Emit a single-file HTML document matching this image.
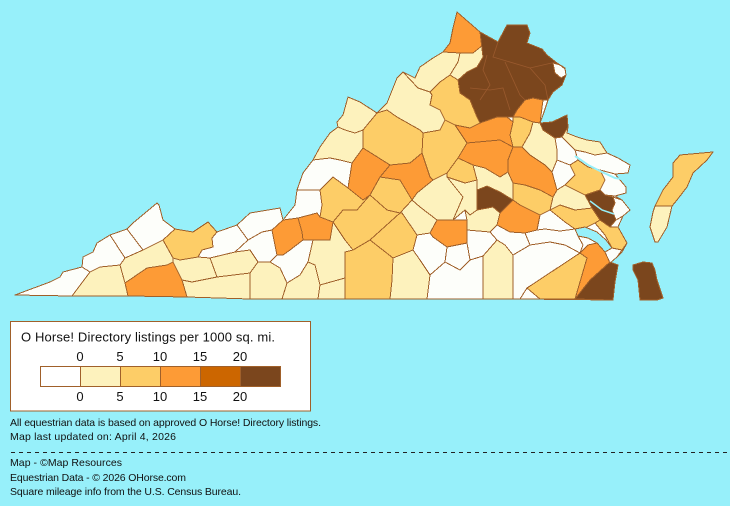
<!DOCTYPE html>
<html>
<head>
<meta charset="utf-8">
<style>
html,body{margin:0;padding:0;background:#97F0FA;width:730px;height:506px;overflow:hidden;}
svg{display:block}
text{font-family:"Liberation Sans",Arial,sans-serif;fill:#111;}
</style>
</head>
<body>
<svg width="730" height="506" viewBox="0 0 730 506" xmlns="http://www.w3.org/2000/svg">
<rect x="0" y="0" width="730" height="506" fill="#97F0FA"/>

<g stroke="#A0602A" stroke-width="1" stroke-linejoin="round" shape-rendering="crispEdges">
<!-- state outline -->
<path fill="#FDFEFA" d="M15,295 L50,282 L60,277 L63,272 L82,267 L83,257 L93,252 L97,243 L110,235 L127,229 L133,223 L157,203 L159,205 L163,220 L175,229 L193,232 L208,222 L217,232 L237,225 L250,213 L280,208 L283,220 L295,205 L297,190 L303,173 L313,160 L320,147 L330,133 L338,127 L337,122 L343,115 L348,97 L360,102 L377,113 L387,103 L397,78 L403,72 L415,78 L420,67 L433,58 L443,52 L450,43 L453,28 L457,12 L480,32 L498,42 L507,25 L527,25 L530,33 L527,43 L542,49 L547,55 L557,63 L565,68 L566,75 L562,85 L553,92 L548,100 L543,115 L540,123 L552,122 L567,115 L568,127 L567,133 L577,137 L587,140 L600,142 L607,153 L618,158 L630,165 L628,173 L615,174 L626,187 L626,193 L615,196 L622,200 L630,210 L623,216 L618,227 L627,243 L622,252 L617,257 L610,263 L618,265 L615,282 L613,300 L520,299 L250,299 L187,297 L130,296 Z"/>

<!-- southwest -->
<polygon fill="#FDFEFA" points="15,295 50,282 60,277 63,272 82,267 90,272 72,296"/>
<polygon fill="#FDF2BD" points="72,296 90,272 100,267 120,265 125,283 128,296"/>
<polygon fill="#FDFEFA" points="82,267 83,257 93,252 97,243 110,235 125,258 120,265 100,267 90,272"/>
<polygon fill="#FDFEFA" points="110,235 127,229 143,250 125,258"/>
<polygon fill="#FDFEFA" points="127,229 133,223 157,203 159,205 163,220 175,229 163,240 143,250"/>
<polygon fill="#FDF2BD" points="125,258 143,250 163,240 173,258 173,262 167,265 147,268 125,283 120,265"/>
<polygon fill="#FD9B36" points="125,283 147,268 167,265 173,262 182,280 187,297 130,296 128,296"/>
<polygon fill="#FDCD67" points="163,240 175,229 193,232 208,222 217,232 212,238 213,247 202,250 198,257 180,260 173,258"/>
<polygon fill="#FDF2BD" points="173,262 173,258 180,260 198,257 210,258 217,277 192,282 182,280"/>
<polygon fill="#FDF2BD" points="182,280 192,282 217,277 250,273 250,299 187,297"/>
<polygon fill="#FDFEFA" points="213,247 212,238 217,232 237,225 248,240 235,252 210,258 198,257 202,250"/>
<polygon fill="#FDF2BD" points="210,258 235,252 250,250 258,262 250,273 217,277"/>
<polygon fill="#FDFEFA" points="237,225 250,213 280,208 283,220 272,230 262,232 248,240"/>
<polygon fill="#FDFEFA" points="248,240 262,232 272,230 277,255 270,262 258,262 250,250 235,252"/>
<polygon fill="#FD9B36" points="272,230 283,220 298,218 302,232 303,240 290,250 283,255 277,255"/>
<polygon fill="#FD9B36" points="298,218 317,213 320,217 333,222 332,230 330,240 313,240 303,240 302,232"/>
<polygon fill="#FDFEFA" points="277,255 283,255 290,250 303,240 313,240 308,262 300,275 287,283 280,268 270,262"/>
<polygon fill="#FDF2BD" points="250,273 258,262 270,262 280,268 287,283 282,299 250,299"/>
<polygon fill="#FDF2BD" points="287,283 300,275 308,262 315,265 320,285 318,299 282,299"/>
<polygon fill="#FDF2BD" points="313,240 330,240 333,222 345,240 353,250 345,252 345,278 320,285 315,265 308,262"/>
<polygon fill="#FDF2BD" points="318,299 320,285 345,278 345,299"/>
<polygon fill="#FDCD67" points="345,252 353,250 370,240 393,258 392,280 390,299 345,299 345,278"/>
<polygon fill="#FDF2BD" points="393,258 413,250 420,260 430,275 427,299 390,299 392,280"/>

<!-- west-central -->
<polygon fill="#FDFEFA" points="283,220 295,205 297,190 320,190 322,205 320,217 317,213 298,218"/>
<polygon fill="#FDFEFA" points="313,160 330,158 340,160 352,163 348,188 333,177 320,190 297,190 303,173"/>
<polygon fill="#FDF2BD" points="320,147 330,133 338,127 345,130 355,133 363,130 363,148 352,163 340,160 330,158 313,160"/>
<polygon fill="#FDF2BD" points="338,127 337,122 343,115 348,97 360,102 377,113 363,130 355,133 345,130"/>
<polygon fill="#FDCD67" points="320,190 333,177 348,188 363,200 370,195 357,210 343,210 333,222 320,217 322,205"/>
<polygon fill="#FD9B36" points="352,163 363,148 390,165 380,177 370,195 363,200 348,188"/>
<polygon fill="#FDCD67" points="363,130 377,113 387,110 397,117 420,130 423,133 422,153 410,163 390,165 363,148"/>
<polygon fill="#FDF2BD" points="377,113 387,103 397,78 403,72 418,88 430,92 432,95 430,105 440,110 445,120 440,130 423,133 420,130 397,117 387,110"/>
<polygon fill="#FDF2BD" points="403,72 415,78 420,67 433,58 443,52 460,53 458,62 450,75 440,82 430,92 418,88"/>
<polygon fill="#FD9B36" points="457,12 480,32 483,45 473,53 460,53 443,52 450,43 453,28"/>
<polygon fill="#FDF2BD" points="473,53 483,45 480,32 483,57 477,67 467,72 458,80 450,75 458,62 460,53"/>
<polygon fill="#FDCD67" points="440,82 450,75 458,80 460,93 470,100 477,117 480,123 470,128 455,125 445,120 440,110 430,105 432,95 430,92"/>

<!-- northern VA -->
<polygon fill="#7B461D" points="480,32 498,42 507,25 527,25 530,33 527,43 542,49 547,55 557,63 565,68 566,75 562,85 553,92 548,100 543,100 533,98 525,100 517,110 513,117 507,117 497,117 480,123 477,117 470,100 460,93 458,80 467,72 477,67 483,57"/>
<polygon fill="#FDFEFA" points="553,63 560,65 565,69 566,75 561,78 555,73"/>
<polygon fill="#FD9B36" points="517,110 525,100 533,98 543,100 540,123 533,122 520,117 513,117"/>
<polygon fill="#7B461D" points="540,123 552,122 567,115 568,127 562,137 555,138 543,130"/>

<!-- central -->
<polygon fill="#FD9B36" points="455,125 470,128 480,123 497,117 507,117 513,122 510,135 513,147 500,140 467,143"/>
<polygon fill="#FDCD67" points="422,153 423,133 440,130 445,120 455,125 467,143 458,158 447,173 433,180 430,177"/>
<polygon fill="#FD9B36" points="390,165 410,163 422,153 430,177 433,180 417,193 412,200 400,180 380,177"/>
<polygon fill="#FDCD67" points="380,177 400,180 412,200 400,213 387,210 370,195"/>
<polygon fill="#FDCD67" points="370,195 387,210 400,213 370,240 353,250 345,240 333,222 343,210 357,210"/>
<polygon fill="#FDCD67" points="400,213 402,213 417,235 413,250 393,258 370,240"/>
<polygon fill="#FDF2BD" points="412,200 420,207 437,220 430,233 417,235 402,213 400,213"/>
<polygon fill="#FDF2BD" points="417,193 433,180 447,173 447,177 463,197 453,220 437,220 420,207 412,200"/>
<polygon fill="#FDCD67" points="458,158 473,165 477,180 465,183 447,177 447,173"/>
<polygon fill="#FD9B36" points="467,143 500,140 513,147 508,160 508,172 500,177 485,168 473,165 458,158"/>
<polygon fill="#FDF2BD" points="473,165 485,168 500,177 508,172 513,183 513,200 500,192 487,186 477,190 477,180"/>
<polygon fill="#7B461D" points="477,190 487,186 500,192 513,200 500,213 493,207 477,210"/>
<polygon fill="#FDF2BD" points="447,177 465,183 477,180 477,210 470,215 465,210 453,220 463,197"/>
<polygon fill="#FDF2BD" points="465,210 470,215 477,210 493,207 500,213 497,225 490,232 467,230 467,220"/>
<polygon fill="#FD9B36" points="437,220 453,220 467,220 467,243 447,247 433,237 430,233"/>
<polygon fill="#FD9B36" points="500,213 513,200 520,205 530,210 540,215 537,230 525,233 510,232 497,225"/>
<polygon fill="#FDCD67" points="513,117 520,117 533,122 530,133 522,147 513,147 510,135 513,122"/>
<polygon fill="#FDF2BD" points="533,122 540,123 543,130 555,138 557,150 557,160 552,172 545,165 530,155 522,147 530,133"/>
<polygon fill="#FD9B36" points="513,147 522,147 530,155 545,165 552,172 557,190 553,197 540,190 525,185 513,183 508,172 508,160"/>
<polygon fill="#FDCD67" points="513,183 525,185 540,190 553,197 550,210 540,215 530,210 520,205 513,200"/>

<!-- tidewater -->
<polygon fill="#FDF2BD" points="562,137 568,127 567,133 577,137 587,140 600,142 607,153 595,155 585,152 575,150"/>
<polygon fill="#FDFEFA" points="575,150 585,152 595,155 607,153 618,158 630,165 628,173 615,174 600,170 588,167 578,160"/>
<polygon fill="#FDFEFA" points="555,138 562,137 575,150 578,160 570,165 557,160 557,150"/>
<polygon fill="#FDFEFA" points="552,172 557,160 570,165 575,175 565,185 557,190"/>
<polygon fill="#FDCD67" points="570,165 578,160 588,167 600,170 605,180 600,190 585,195 575,190 565,185 575,175"/>
<polygon fill="#FDFEFA" points="600,170 615,174 626,187 626,193 615,196 605,195 600,190 605,180"/>
<polygon fill="#7B461D" points="585,195 600,190 605,195 613,197 615,203 612,210 616,220 610,227 600,220 592,208"/>
<polygon fill="#FDFEFA" points="613,197 622,200 630,210 623,216 616,220 612,210 615,203"/>
<polygon fill="#FDF2BD" points="553,197 557,190 565,185 575,190 585,195 592,208 575,210 560,205 550,210"/>
<polygon fill="#FDCD67" points="550,210 560,205 575,210 592,208 600,220 595,223 585,228 575,229 565,222"/>
<polygon fill="#FDCD67" points="600,220 610,227 618,227 627,243 622,250 612,248 605,235 595,223"/>
<polygon fill="#FDFEFA" points="540,215 550,210 565,222 575,229 560,231 545,229 537,230"/>

<!-- south -->
<polygon fill="#FDFEFA" points="525,233 537,230 545,229 560,231 575,229 578,236 583,245 580,253 565,245 550,242 530,245"/>
<polygon fill="#FDFEFA" points="490,232 497,225 510,232 525,233 530,245 513,255 505,245 497,240"/>
<polygon fill="#FDFEFA" points="467,230 490,232 497,240 483,256 470,260 467,243"/>
<polygon fill="#FDF2BD" points="483,256 497,240 505,245 513,255 513,299 483,299"/>
<polygon fill="#FDFEFA" points="513,255 530,245 550,242 565,245 580,253 527,288 520,299 513,299"/>
<polygon fill="#FDCD67" points="527,288 580,253 587,258 575,299 540,299"/>
<polygon fill="#FD9B36" points="580,253 588,245 597,243 605,252 610,262 590,280 575,299 587,258"/>
<polygon fill="#7B461D" points="575,299 590,280 610,262 618,265 615,282 613,300"/>
<polygon fill="#FDFEFA" points="413,250 417,235 430,233 433,237 447,247 445,262 430,275 420,260"/>
<polygon fill="#FDFEFA" points="447,247 467,243 470,260 460,270 445,262"/>
<polygon fill="#FDFEFA" points="430,275 445,262 460,270 470,260 483,256 483,299 427,299"/>
<polygon fill="#FDFEFA" points="612,248 622,250 617,257 610,263 605,252"/>

<!-- James river mouth -->
<polygon fill="#97F0FA" points="575,229 585,227 597,232 606,240 612,248 605,252 597,243 588,238 578,236"/>

<!-- eastern shore -->
<polygon fill="#FDCD67" points="680,155 702,153 713,152 707,160 693,173 687,187 677,200 672,206 655,206 663,190 673,177 673,163"/>
<polygon fill="#FDF2BD" points="655,206 672,206 667,227 658,242 655,242 650,227 653,212"/>
<polygon fill="#7B461D" points="633,265 643,262 652,263 655,270 657,280 663,298 657,300 640,300 638,280 633,270"/>
</g>

<!-- rivers -->
<polyline points="575,156 588,165 602,172 615,178 628,180" fill="none" stroke="#97F0FA" stroke-width="2"/>
<polyline points="590,201 602,210 614,214" fill="none" stroke="#97F0FA" stroke-width="1.5"/>

<!-- internal NoVA borders -->
<g fill="none" stroke="#9A5A2E" stroke-width="0.8">
<polyline points="498,42 493,57 530,68 556,62"/>
<polyline points="487,55 483,70 490,85 480,100"/>
<polyline points="505,62 520,95 525,100"/>
<polyline points="530,68 545,85 548,100"/>
<polyline points="470,88 490,90 503,88 510,110"/>
</g>

<!-- legend -->
<rect x="10.5" y="321.5" width="300" height="89.5" fill="#FFFFFF" stroke="#A0602A" stroke-width="1"/>
<text x="21" y="341.5" font-size="13" textLength="254">O Horse! Directory listings per 1000 sq. mi.</text>
<g font-size="13" text-anchor="middle">
<text x="80" y="361">0</text>
<text x="120" y="361">5</text>
<text x="160" y="361">10</text>
<text x="200" y="361">15</text>
<text x="240" y="361">20</text>
<text x="80" y="401">0</text>
<text x="120" y="401">5</text>
<text x="160" y="401">10</text>
<text x="200" y="401">15</text>
<text x="240" y="401">20</text>
</g>
<g stroke="#A0602A" stroke-width="1">
<rect x="40.5" y="366.5" width="40" height="20" fill="#FFFFFF"/>
<rect x="80.5" y="366.5" width="40" height="20" fill="#FDF2BD"/>
<rect x="120.5" y="366.5" width="40" height="20" fill="#FDCD67"/>
<rect x="160.5" y="366.5" width="40" height="20" fill="#FD9B36"/>
<rect x="200.5" y="366.5" width="40" height="20" fill="#CC6600"/>
<rect x="240.5" y="366.5" width="40" height="20" fill="#7B461D"/>
</g>

<!-- footer -->
<g font-size="10.5">
<text x="10" y="426" textLength="311">All equestrian data is based on approved O Horse! Directory listings.</text>
<text x="10" y="440" textLength="166">Map last updated on: April 4, 2026</text>
<text x="10" y="466" textLength="112">Map - ©Map Resources</text>
<text x="10" y="481" textLength="176">Equestrian Data - © 2026 OHorse.com</text>
<text x="10" y="495" textLength="231">Square mileage info from the U.S. Census Bureau.</text>
</g>
<line x1="11" y1="452.5" x2="730" y2="452.5" stroke="#222" stroke-width="1" stroke-dasharray="4,4"/>
</svg>
</body>
</html>
